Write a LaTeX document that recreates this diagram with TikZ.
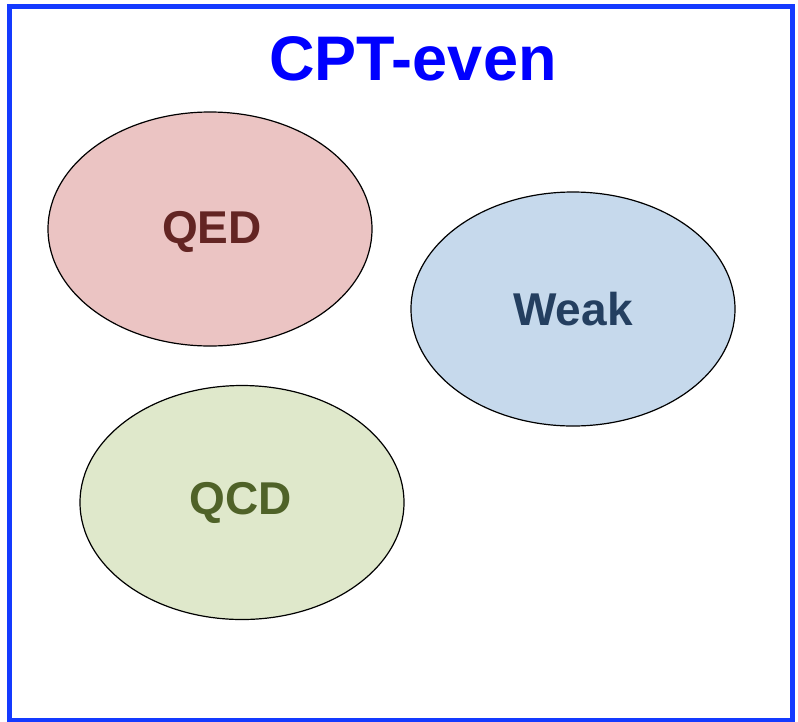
\documentclass[tikz,border=0pt]{standalone}
\usepackage{fontspec}
\setmainfont{Liberation Sans}
\usetikzlibrary{shapes.geometric}
\definecolor{frameblue}{RGB}{20,58,255}
\definecolor{titleblue}{RGB}{0,0,255}
\definecolor{qedfill}{RGB}{235,196,195}
\definecolor{qedtext}{RGB}{99,37,35}
\definecolor{weakfill}{RGB}{198,217,236}
\definecolor{weaktext}{RGB}{36,63,96}
\definecolor{qcdfill}{RGB}{223,232,203}
\definecolor{qcdtext}{RGB}{79,98,40}
\tikzset{
  blob/.style={ellipse, draw=black, line width=1.2pt, minimum width=324pt, minimum height=234pt, inner sep=0pt},
  blobtext/.style={font=\fontsize{46}{46}\selectfont\bfseries, inner sep=0pt, anchor=base}
}
\begin{document}
\begin{tikzpicture}[x=1pt,y=-1pt]
\useasboundingbox (0,0) rectangle (798,721);
\draw[frameblue, line width=5pt] (9.5,6.5) rectangle (792.5,720.5);
\node[font=\fontsize{63}{63}\selectfont\bfseries, text=titleblue, inner sep=0pt, anchor=base] (title) at (413,80) {CPT-even};
\node[blob, fill=qedfill] (qed) at (210,229) {};
\node[blob, fill=weakfill] (weak) at (573,309) {};
\node[blob, fill=qcdfill] (qcd) at (242,502.5) {};
\node[blobtext, text=qedtext] (qedl) at (212,243) {QED};
\node[blobtext, text=weaktext] (weakl) at (573,325) {Weak};
\node[blobtext, text=qcdtext] (qcdl) at (241,514) {QCD};
\end{tikzpicture}
\end{document}
